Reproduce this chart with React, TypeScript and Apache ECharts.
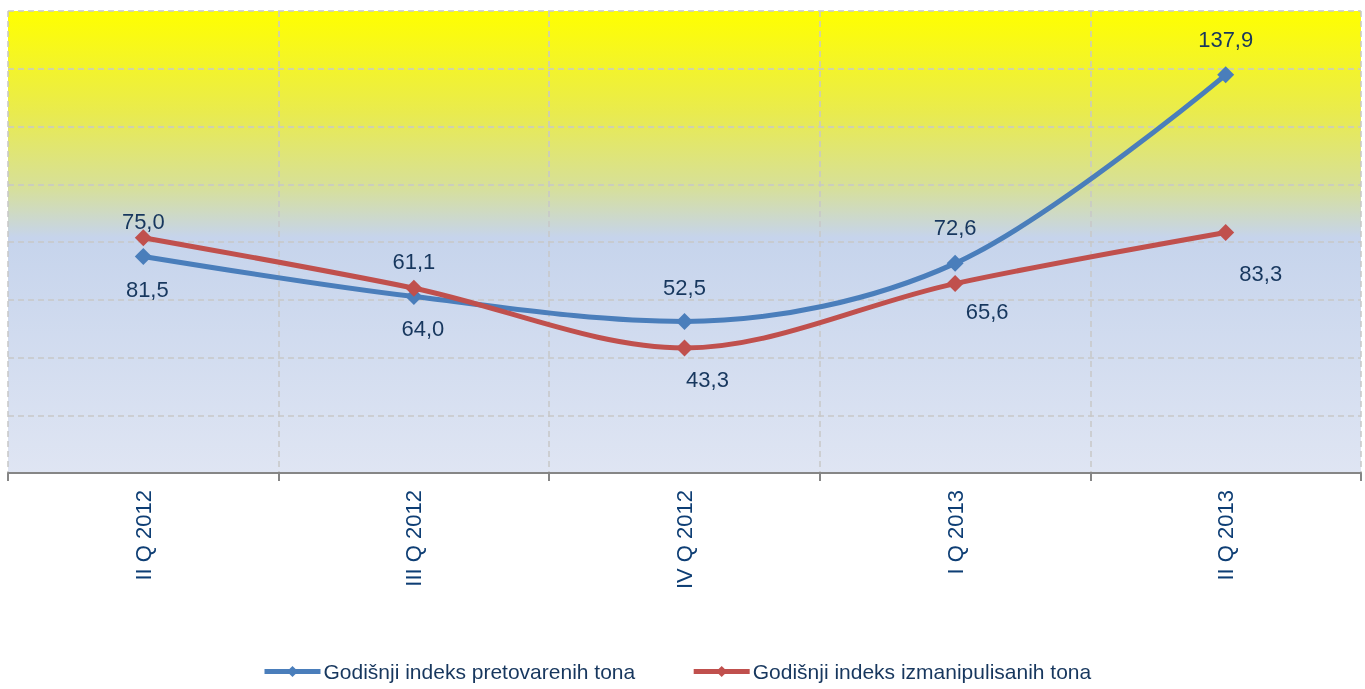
import React, { useEffect, useRef } from "react";
import * as echarts from "echarts";

const categories = ["II Q 2012", "III Q 2012", "IV Q 2012", "I Q 2013", "II Q 2013"];
const seriesNames = ["Godišnji indeks pretovarenih tona", "Godišnji indeks izmanipulisanih tona"];
const pretovarenih = [75.0, 61.1, 52.5, 72.6, 137.9];
const izmanipulisanih = [81.5, 64.0, 43.3, 65.6, 83.3];

// label offsets (style only)
const blueLabelOffsets = [[0, -35], [0, -35], [0, -34], [0, -36], [0, -35]];
const redLabelOffsets = [[4, 52], [9, 40], [23, 32], [32, 28], [35, 41]];

const FONT = "'Liberation Sans', Arial, sans-serif";
const LABEL_COLOR = "#17375E";

const fmt = (v: number) => v.toFixed(1).replace(".", ",");

export default function App() {
  const ref = useRef<HTMLDivElement>(null);
  useEffect(() => {
    if (!ref.current) return;
    const chart = echarts.init(ref.current, null, { renderer: "svg" });
    const mk = (vals: number[], offs: number[][]) =>
      vals.map((v, i) => ({
        value: v,
        label: { offset: offs[i] },
      }));
    chart.setOption({
      animation: false,
      textStyle: { fontFamily: FONT },
      grid: {
        left: 8,
        right: 4,
        top: 11,
        bottom: 216,
        show: true,
        borderWidth: 0,
        backgroundColor: {
          type: "linear",
          x: 0,
          y: 0,
          x2: 0,
          y2: 1,
          colorStops: [
            { offset: 0, color: "#FFFF00" },
            { offset: 0.22, color: "#E9EB4E" },
            { offset: 0.38, color: "#D7E098" },
            { offset: 0.49, color: "#C6D4EC" },
            { offset: 1, color: "#DFE5F3" },
          ],
        },
      },
      legend: {
        bottom: 7,
        left: 262,
        padding: 0,
        itemWidth: 56,
        itemHeight: 14,
        itemGap: 56,
        lineStyle: { width: 5 },
        textStyle: { fontSize: 21, color: LABEL_COLOR, fontFamily: FONT, padding: [0, 0, 0, -2] },
        data: seriesNames,
      },
      xAxis: {
        type: "category",
        data: categories,
        boundaryGap: true,
        axisLine: { lineStyle: { color: "#868686", width: 2 } },
        axisTick: { show: true, length: 8, lineStyle: { color: "#868686", width: 2 } },
        axisLabel: {
          rotate: 90,
          margin: 17,
          fontSize: 22,
          color: "#0E3E74",
          fontFamily: FONT,
        },
        splitLine: { show: true, lineStyle: { color: "#C8C8C8", type: [6, 4], width: 1.5 } },
      },
      yAxis: {
        type: "value",
        min: 0,
        max: 160,
        interval: 20,
        axisLabel: { show: false },
        axisLine: { show: false },
        axisTick: { show: false },
        splitLine: { show: true, lineStyle: { color: "#C8C8C8", type: [6, 4], width: 1.5 } },
      },
      series: [
        {
          name: seriesNames[0],
          type: "line",
          smooth: 0.33,
          data: mk(pretovarenih, blueLabelOffsets),
          symbol: "diamond",
          symbolSize: 17,
          lineStyle: { color: "#4A7EBB", width: 5 },
          itemStyle: { color: "#4A7EBB" },
          label: {
            show: true,
            position: "inside",
            fontSize: 22,
            color: LABEL_COLOR,
            fontFamily: FONT,
            formatter: (p: any) => fmt(p.value),
          },
          z: 3,
        },
        {
          name: seriesNames[1],
          type: "line",
          smooth: 0.33,
          data: mk(izmanipulisanih, redLabelOffsets),
          symbol: "diamond",
          symbolSize: 17,
          lineStyle: { color: "#C0504D", width: 5 },
          itemStyle: { color: "#C0504D" },
          label: {
            show: true,
            position: "inside",
            fontSize: 22,
            color: LABEL_COLOR,
            fontFamily: FONT,
            formatter: (p: any) => fmt(p.value),
          },
          z: 4,
        },
      ],
    });
    return () => chart.dispose();
  }, []);
  return (
    <div
      ref={ref}
      style={{ position: "fixed", left: 0, top: 0, width: 1365, height: 689 }}
    />
  );
}
